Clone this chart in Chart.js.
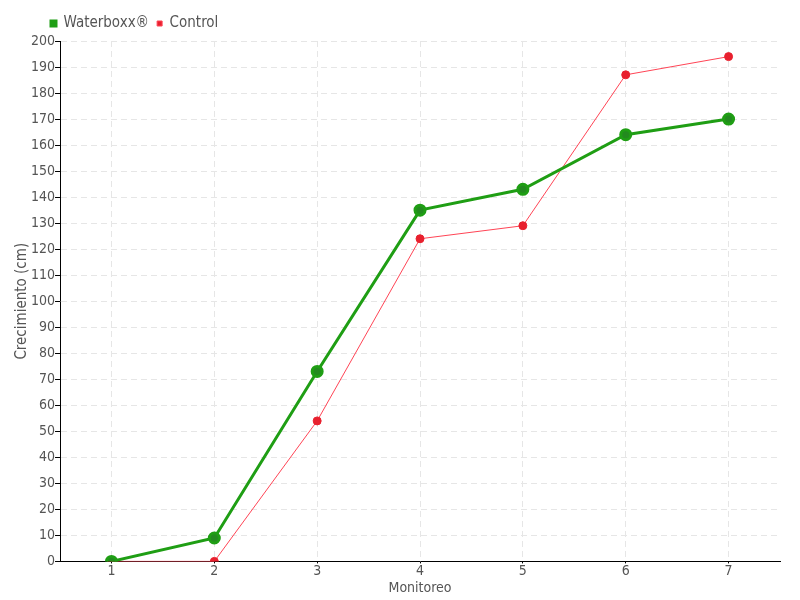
<!DOCTYPE html>
<html lang="es">
<head>
    <meta charset="UTF-8">
    <title>Crecimiento</title>
    <script src="https://cdn.jsdelivr.net/npm/chart.js"></script>
    <style>
        body { margin: 0; background: #fff; }
        canvas { display: block; }
    </style>
</head>
<body>
    <canvas id="lineChart" width="800" height="600"></canvas>
    <script>
        // datos
        var monitoreos = ['1', '2', '3', '4', '5', '6', '7'];
        var waterboxx = [0, 9, 73, 135, 143, 164, 170];
        var control = [0, 0, 54, 124, 129, 187, 194];

        var fuente = "'Liberation Sans Narrow', 'DejaVu Sans Condensed', sans-serif";
        var gris = '#555';

        // mover la leyenda un poco a la derecha, como en el original
        var moverLeyenda = {
            id: 'moverLeyenda',
            afterLayout: function (chart) {
                chart.legend.left += 30;
            }
        };

        var ctx = document.getElementById('lineChart').getContext('2d');
        new Chart(ctx, {
            type: 'line',
            data: {
                labels: monitoreos,
                datasets: [{
                    label: 'Waterboxx®',
                    data: waterboxx,
                    borderColor: '#1f9e14',
                    backgroundColor: '#1f9e14',
                    pointBackgroundColor: '#238a1f',
                    pointBorderColor: '#1f9e14',
                    borderWidth: 3,
                    pointRadius: 5,
                    fill: false,
                    tension: 0
                }, {
                    label: 'Control',
                    data: control,
                    borderColor: '#ff4455',
                    backgroundColor: '#e8202e',
                    pointBackgroundColor: '#e8202e',
                    pointBorderColor: '#e8202e',
                    borderWidth: 1,
                    pointRadius: 4,
                    fill: false,
                    tension: 0
                }]
            },
            plugins: [moverLeyenda],
            options: {
                responsive: false,
                animation: false,
                layout: { padding: { left: 13, right: 20, top: 8, bottom: 3 } },
                plugins: {
                    legend: {
                        align: 'start',
                        labels: {
                            boxWidth: 5,
                            boxHeight: 5,
                            padding: 8,
                            color: gris,
                            font: { family: fuente, size: 15 }
                        }
                    },
                    tooltip: { enabled: false }
                },
                scales: {
                    x: {
                        offset: true,
                        title: { display: true, text: 'Monitoreo', color: gris, padding: 0, font: { family: fuente, size: 14 } },
                        ticks: { color: gris, padding: 0, font: { family: fuente, size: 14 } },
                        grid: { color: '#e6e6e6', offset: false, tickColor: '#000', tickLength: 2, tickBorderDash: [] },
                        border: { color: '#000', width: 1, dash: [6, 4] }
                    },
                    y: {
                        min: 0,
                        max: 200,
                        title: { display: true, text: 'Crecimiento (cm)', color: gris, padding: 0, font: { family: fuente, size: 15 } },
                        ticks: { stepSize: 10, color: gris, padding: 0, font: { family: fuente, size: 14 } },
                        grid: { color: '#e6e6e6', tickColor: '#000', tickLength: 5, tickBorderDash: [] },
                        border: { color: '#000', width: 1, dash: [6, 4] }
                    }
                }
            }
        });
    </script>
</body>
</html>
